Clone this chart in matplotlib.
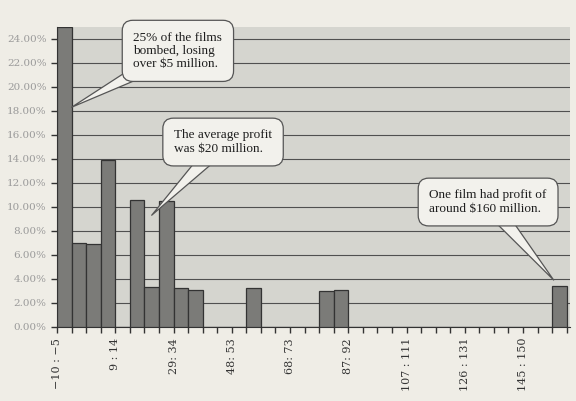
import matplotlib
matplotlib.use('Agg')
import matplotlib.pyplot as plt
import numpy as np

# share of films (%) in each profit bin ($ million), 35 bins
bins = np.arange(35)
share = [25.0, 7.0, 6.9, 13.9, 0, 10.6, 3.3, 10.5, 3.2, 3.1,
         0, 0, 0, 3.2, 0, 0, 0, 0, 3.0, 3.1,
         0, 0, 0, 0, 0, 0, 0, 0, 0, 0,
         0, 0, 0, 0, 3.4]

label_pos = [0, 4, 8, 12, 16, 20, 24, 28, 32]
labels = ['\u221210 : \u22125', '9 : 14', '29: 34', '48: 53', '68: 73',
          '87: 92', '107 : 111', '126 : 131', '145 : 150']

y_ticks = np.arange(0, 25, 2)

notes = ['25% of the films\nbombed, losing\nover $5 million.',
         'The average profit\nwas $20 million.',
         'One film had profit of\naround $160 million.']
note_tip = [(1.0, 18.3), (6.5, 9.3), (34.1, 3.9)]
note_box = [(8.3, 23.0), (11.4, 15.4), (29.6, 10.4)]
note_base = [1.6, 1.4, 1.4]

paper = '#efede6'
fig = plt.figure(figsize=(5.76, 4.01), dpi=100, facecolor=paper)
ax = fig.add_axes([0.099, 0.185, 0.89, 0.748])
ax.set_facecolor('#d5d5cf')

ax.bar(bins + 0.5, share, width=1.0, color='#7b7b78', edgecolor='#333333',
       linewidth=0.9, zorder=3)

ax.set_xlim(0, 35.2)
ax.set_ylim(0, 25)
ax.set_yticks(y_ticks)
ax.set_yticklabels(['%.2f%%' % v for v in y_ticks], family='DejaVu Serif',
                   fontsize=7.5, color='#9a9a9a')
ax.set_xticks(label_pos)
ax.set_xticklabels(labels, rotation=90, family='DejaVu Serif',
                   fontsize=8, color='#333333')
ax.set_xticks(np.arange(0, 36), minor=True)
ax.tick_params(axis='x', which='both', length=4, width=1, color='#333333')
ax.tick_params(axis='x', which='major', pad=4)
ax.tick_params(axis='y', length=4, width=1, color='#333333')

ax.grid(True, axis='y', color='#505050', linewidth=0.8, zorder=1)
for s in ['top', 'right']:
    ax.spines[s].set_visible(False)
ax.spines['left'].set_color('#333333')
ax.spines['bottom'].set_color('#333333')

for txt, tip, box, tw in zip(notes, note_tip, note_box, note_base):
    ax.annotate(txt, xy=tip, xytext=box, ha='center', va='center',
                multialignment='left',
                family='Liberation Serif', fontsize=9.5, color='#1e1e1e',
                linespacing=1.15, annotation_clip=False, zorder=6,
                bbox=dict(boxstyle='round,pad=0.85,rounding_size=0.8',
                          fc='#f2f1ec', ec='#555555', lw=0.9),
                arrowprops=dict(arrowstyle='wedge,tail_width=%s,shrink_factor=0.5' % tw,
                                fc='#f2f1ec', ec='#555555', lw=0.9,
                                patchA=None, shrinkA=0, shrinkB=0))

plt.savefig('out.png', dpi=100, facecolor=paper)
